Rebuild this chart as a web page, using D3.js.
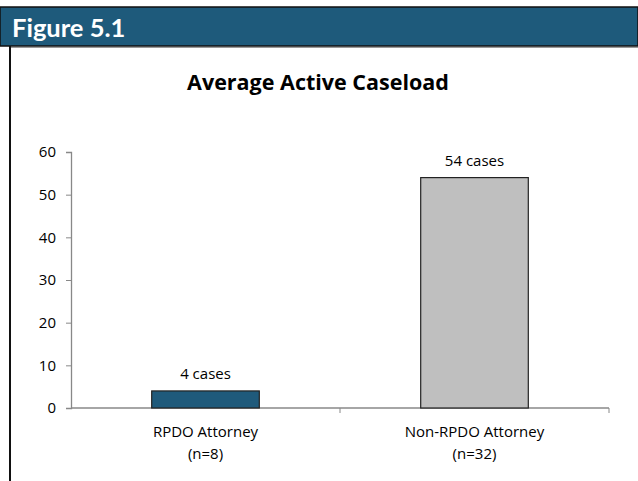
<!DOCTYPE html>
<html>
<head>
<meta charset="utf-8">
<script src="https://cdn.jsdelivr.net/npm/d3@7"></script>
<style>
  body { margin: 0; background: #fff; }
  svg { display: block; }
</style>
</head>
<body>
<div class="chart-wrapper"></div>
<script>
// data
const categories = ['RPDO Attorney', 'Non-RPDO Attorney'];
const subLabels = ['(n=8)', '(n=32)'];
const values = [4, 54];
const valueLabels = ['4 cases', '54 cases'];
const yTicks = [0, 10, 20, 30, 40, 50, 60];

const width = 638, height = 481;
const colors = ['#1f5a7b', '#bfbfbf'];
const font = '"Open Sans", sans-serif';
const fs = '15px';

const svg = d3.select('.chart-wrapper').append('svg')
  .attr('width', width)
  .attr('height', height);

// header bar
svg.append('rect')
  .attr('x', 0).attr('y', 7)
  .attr('width', width).attr('height', 39)
  .attr('fill', '#1e5a7b')
  .attr('stroke', '#111').attr('stroke-width', 1.5);

svg.append('text')
  .attr('x', 12).attr('y', 37)
  .attr('fill', '#fff')
  .style('font-family', 'Lato, sans-serif')
  .style('font-weight', 'bold')
  .style('font-size', '25.5px')
  .text('Figure 5.1');

// left frame line
svg.append('line')
  .attr('x1', 10).attr('x2', 10)
  .attr('y1', 46).attr('y2', height)
  .attr('stroke', '#111').attr('stroke-width', 2);
svg.append('line')
  .attr('x1', 11).attr('x2', width)
  .attr('y1', 47.5).attr('y2', 47.5)
  .attr('stroke', '#999').attr('stroke-width', 1);

svg.append('text')
  .attr('x', 318).attr('y', 90)
  .attr('text-anchor', 'middle')
  .style('font-family', font)
  .style('font-weight', 'bold')
  .style('font-size', '21.5px')
  .attr('fill', '#000')
  .text('Average Active Caseload');

const x = d3.scaleBand()
  .domain(categories)
  .range([71, 609]);

const y = d3.scaleLinear()
  .domain([0, 60])
  .range([408, 152]);

// y axis
const yAxis = svg.append('g')
  .attr('transform', 'translate(71,0)')
  .call(d3.axisLeft(y).tickValues(yTicks).tickSize(5).tickPadding(10));
yAxis.select('.domain').attr('stroke', '#888').attr('stroke-width', 1.3);
yAxis.selectAll('.tick line').attr('stroke', '#888');
yAxis.selectAll('.tick text')
  .attr('font-family', font).attr('font-size', fs).attr('fill', '#000');

// x axis
const xAxis = svg.append('g')
  .attr('transform', 'translate(0,408)');
xAxis.append('line')
  .attr('x1', 71).attr('x2', 609)
  .attr('stroke', '#888').attr('stroke-width', 1.3);
categories.map(c => x(c) + x.bandwidth()).forEach(t => {
  xAxis.append('line')
    .attr('x1', t).attr('x2', t)
    .attr('y1', 0).attr('y2', 5)
    .attr('stroke', '#888');
});

const barW = x.bandwidth() * 0.4;

svg.selectAll('.bar')
  .data(values)
  .enter()
  .append('rect')
  .attr('class', 'bar')
  .attr('x', (d, i) => x(categories[i]) + (x.bandwidth() - barW) / 2)
  .attr('y', d => y(d))
  .attr('width', barW)
  .attr('height', d => y(0) - y(d))
  .attr('fill', (d, i) => colors[i])
  .attr('stroke', '#222')
  .attr('stroke-width', 1.2);

svg.selectAll('.vlabel')
  .data(values)
  .enter()
  .append('text')
  .attr('x', (d, i) => x(categories[i]) + x.bandwidth() / 2)
  .attr('y', d => y(d) - 12)
  .attr('text-anchor', 'middle')
  .attr('font-family', font).attr('font-size', fs)
  .text((d, i) => valueLabels[i]);

categories.forEach((c, i) => {
  const cx = x(c) + x.bandwidth() / 2;
  svg.append('text')
    .attr('x', cx).attr('y', 437)
    .attr('text-anchor', 'middle')
    .attr('font-family', font).attr('font-size', fs)
    .text(c);
  svg.append('text')
    .attr('x', cx).attr('y', 459)
    .attr('text-anchor', 'middle')
    .attr('font-family', font).attr('font-size', fs)
    .text(subLabels[i]);
});
</script>
</body>
</html>
